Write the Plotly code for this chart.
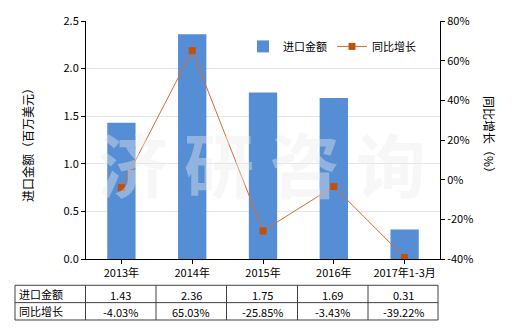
import plotly.graph_objects as go

categories = ["2013年", "2014年", "2015年", "2016年", "2017年1-3月"]
import_values = [1.43, 2.36, 1.75, 1.69, 0.31]
growth_values = [-4.03, 65.03, -25.85, -3.43, -39.22]
import_labels = ["1.43", "2.36", "1.75", "1.69", "0.31"]
growth_labels = ["-4.03%", "65.03%", "-25.85%", "-3.43%", "-39.22%"]
row_names = ["进口金额", "同比增长"]
y2_ticks = [-40, -20, 0, 20, 40, 60, 80]
y2_ticktext = ["-40%", "-20%", "0%", "20%", "40%", "60%", "80%"]

FONT = "Noto Sans CJK SC"
W, H = 520, 330
L, R, T, B = 86, 80, 19, 71
pw = W - L - R
ph = H - T - B

def px2x(px):
    return (px - L) / pw

def py2y(py):
    return (H - B - py) / ph

fig = go.Figure()
fig.add_trace(go.Bar(
    x=categories, y=import_values, name="进口金额",
    marker=dict(color="#558ED5", line=dict(width=0)), width=0.4,
    yaxis="y",
))
fig.add_trace(go.Scatter(
    x=categories, y=growth_values, name="同比增长", mode="lines+markers",
    line=dict(color="#E0692A", width=1),
    marker=dict(symbol="square", size=7, color="#C0500A"),
    yaxis="y2",
))

shapes = []
annotations = []

# table
col_edges = [15, 85.5, 156, 226.5, 297.5, 368, 438]
row_edges = [285.5, 303, 320.5]
for xe in col_edges:
    shapes.append(dict(type="line", xref="paper", yref="paper",
                       x0=px2x(xe), x1=px2x(xe), y0=py2y(row_edges[0]), y1=py2y(row_edges[-1]),
                       line=dict(color="#404040", width=1)))
for ye in row_edges:
    shapes.append(dict(type="line", xref="paper", yref="paper",
                       x0=px2x(col_edges[0]), x1=px2x(col_edges[-1]), y0=py2y(ye), y1=py2y(ye),
                       line=dict(color="#404040", width=1)))

rows = [import_labels, growth_labels]
for r, (name, labels) in enumerate(zip(row_names, rows)):
    yc = (row_edges[r] + row_edges[r + 1]) / 2
    annotations.append(dict(xref="paper", yref="paper", x=px2x(col_edges[0] + 2), y=py2y(yc),
                            text=name, showarrow=False, xanchor="left", yanchor="middle",
                            font=dict(family=FONT, size=11, color="#000")))
    for c, lab in enumerate(labels):
        xc = (col_edges[c + 1] + col_edges[c + 2]) / 2
        annotations.append(dict(xref="paper", yref="paper", x=px2x(xc), y=py2y(yc + 1),
                                text=lab, showarrow=False, xanchor="center", yanchor="middle",
                                font=dict(family=FONT, size=11, color="#000")))

# axis titles
annotations.append(dict(xref="paper", yref="paper", x=px2x(28), y=py2y(141),
                        text="进口金额（百万美元）", textangle=-90, showarrow=False,
                        xanchor="center", yanchor="middle",
                        font=dict(family=FONT, size=12, color="#000")))
annotations.append(dict(xref="paper", yref="paper", x=px2x(490), y=py2y(136),
                        text="同比增长（%）", textangle=90, showarrow=False,
                        xanchor="center", yanchor="middle",
                        font=dict(family=FONT, size=12, color="#000")))

# watermark
annotations.append(dict(xref="paper", yref="paper", x=px2x(262), y=py2y(162),
                        text="<b>济 研 咨 询</b>", showarrow=False,
                        xanchor="center", yanchor="middle",
                        font=dict(family=FONT, size=70, color="rgba(234,234,234,0.4)")))

fig.update_layout(
    width=W, height=H,
    margin=dict(l=L, r=R, t=T, b=B),
    paper_bgcolor="white", plot_bgcolor="white",
    font=dict(family=FONT, size=11, color="#000"),
    bargap=0.6,
    showlegend=True,
    legend=dict(orientation="h", x=px2x(243), y=py2y(30), xanchor="left", yanchor="top",
                bgcolor="rgba(0,0,0,0)", font=dict(family=FONT, size=11),
                itemwidth=30, traceorder="normal"),
    xaxis=dict(showline=True, linecolor="#000", linewidth=1, ticks="outside",
               ticklen=4, tickcolor="#000", showgrid=False,
               tickfont=dict(family=FONT, size=11)),
    yaxis=dict(range=[0, 2.5], dtick=0.5, tickformat=".1f", showline=True,
               linecolor="#000", linewidth=1, ticks="outside", ticklen=4,
               tickcolor="#000", showgrid=True, gridcolor="#DDE9E9", zeroline=False,
               tickfont=dict(family=FONT, size=11)),
    yaxis2=dict(range=[-40, 80], tickmode="array", tickvals=y2_ticks, ticktext=y2_ticktext,
                overlaying="y", side="right",
                showline=True, linecolor="#000", linewidth=1, ticks="outside", ticklen=4,
                tickcolor="#000", showgrid=False, zeroline=False,
                tickfont=dict(family=FONT, size=11)),
    shapes=shapes,
    annotations=annotations,
)

fig.write_html("out.html")
